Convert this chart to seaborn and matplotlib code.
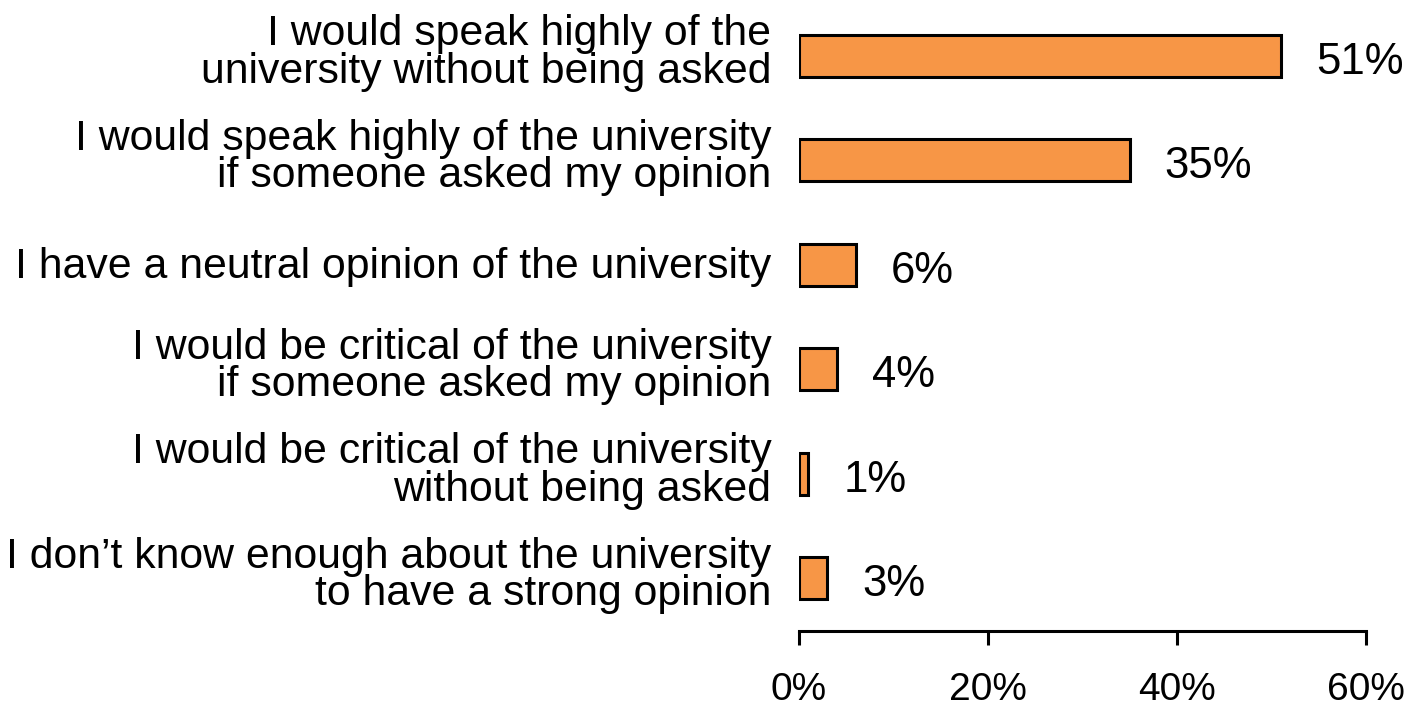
import matplotlib
matplotlib.use("Agg")
import matplotlib.pyplot as plt
import matplotlib.transforms as mtransforms
import seaborn as sns
import pandas as pd

categories = [
    "I would speak highly of the\nuniversity without being asked",
    "I would speak highly of the university\nif someone asked my opinion",
    "I have a neutral opinion of the university",
    "I would be critical of the university\nif someone asked my opinion",
    "I would be critical of the university\nwithout being asked",
    "I don\u2019t know enough about the university\nto have a strong opinion",
]
values = [51, 35, 6, 4, 1, 3]
x_ticks = [0, 20, 40, 60]
x_tick_labels = ["0%", "20%", "40%", "60%"]

sns.set_theme(style="white")
plt.rcParams["font.family"] = ["Liberation Sans", "DejaVu Sans"]
plt.rcParams["text.color"] = "black"
plt.rcParams["xtick.color"] = "black"
plt.rcParams["ytick.color"] = "black"

df = pd.DataFrame({"category": categories, "value": values})

fig = plt.figure(figsize=(14.18, 7.07), dpi=100)
ax = fig.add_axes([0.5635, 0.108, 0.3998, 0.887])

sns.barplot(data=df, x="value", y="category", orient="h", color="#F79646",
            saturation=1, width=0.4, edgecolor="black", linewidth=2.2, ax=ax)

for i, v in enumerate(values):
    ax.text(v + 3.7, i + 0.06, f"{v}%", va="center", ha="left",
            fontsize=31.5, color="black")

ax.set_xlim(0, 60)
ax.set_ylim(5.5, -0.5)
ax.set_xticks(x_ticks)
ax.set_xticklabels(x_tick_labels, fontsize=28)
ax.tick_params(axis="x", bottom=True, length=10, width=2.2, color="black", pad=20)
ax.tick_params(axis="y", left=False, pad=14, labelsize=30.8)

# lift the two-line category labels a little above the bar centres
for tick, text in zip(ax.yaxis.get_major_ticks(), categories):
    lbl = tick.label1
    px = 6 if "\n" in text else 2
    lift = mtransforms.ScaledTranslation(0, px / 100, fig.dpi_scale_trans)
    lbl.set_transform(lbl.get_transform() + lift)
    lbl.set_multialignment("right")
    lbl.set_linespacing(0.92)

ax.set_xlabel("")
ax.set_ylabel("")
for side in ["top", "right", "left"]:
    ax.spines[side].set_visible(False)
ax.spines["bottom"].set_linewidth(2.2)
ax.spines["bottom"].set_color("black")

fig.savefig("out.png", dpi=100)
